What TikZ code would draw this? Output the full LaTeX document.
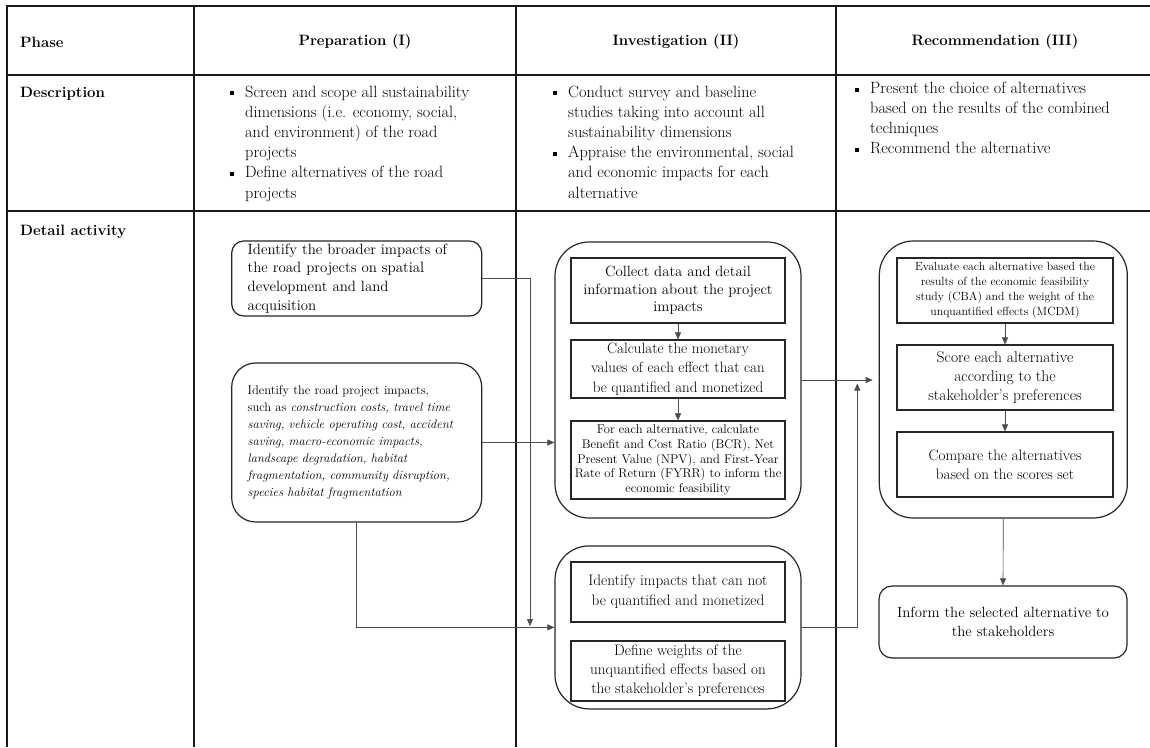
\documentclass[tikz,border=0pt]{standalone}
\usetikzlibrary{arrows.meta}
\newcommand\fsz[2]{\fontsize{#1}{#2}\selectfont}
% small square bullet hung to the left of a line
\newcommand\sqb{\llap{\rule[1.6pt]{4pt}{4pt}\hspace{11.5pt}}}
\begin{document}
\begin{tikzpicture}[x=1pt,y=-1pt,
  rule/.style={line width=1.3pt,draw=black!90},
  head/.style={font=\fsz{15}{18}\bfseries,inner sep=0pt},
  desc/.style={font=\fsz{16.3}{20.2},align=left,anchor=north west,inner sep=0pt},
  pbox/.style={draw=black!85,line width=1.2pt,rounded corners=#1,align=left,
    text width=218pt,inner xsep=16pt,inner ysep=0pt,minimum width=250pt},
  pbox/.default=12pt,
  grp/.style={draw=black!85,line width=1.2pt,rounded corners=34pt,inner sep=0pt},
  ibox/.style={draw=black!85,line width=1.2pt,align=center,inner sep=0pt,minimum width=214pt},
  arr/.style={line width=0.65pt,draw=black!70,-{Triangle[length=7pt,width=6pt]}}]
\useasboundingbox (0,0) rectangle (1150,747);
\fill[white] (0,0) rectangle (1150,747);

% table rules
\draw[rule] (7,747) -- (7,6) -- (1150,6);
\draw[rule] (7,75) -- (1150,75);
\draw[rule] (7,211) -- (1150,211);
\draw[rule] (194,6) -- (194,747);
\draw[rule] (516,6) -- (516,747);
\draw[rule] (836,6) -- (836,747);

% header row
\node[head,anchor=west] (hPh) at (20,42) {Phase};
\node[head] (hP) at (355,42) {Preparation (I)};
\node[head] (hI) at (676,42) {Investigation (II)};
\node[head] (hR) at (995,42) {Recommendation (III)};

% description row
\node[head,anchor=west] (hD) at (20,94) {Description};
\node[desc] (dP) at (245,85.5) {\sqb Screen and scope all sustainability\\dimensions (i.e. economy, social,\\and environment) of the road\\projects\\\sqb Define alternatives of the road\\projects};
\node[desc] (dI) at (568,85.5) {\sqb Conduct survey and baseline\\studies taking into account all\\sustainability dimensions\\\sqb Appraise the environmental, social\\and economic impacts for each\\alternative};
\node[desc] (dR) at (870,81.5) {\sqb Present the choice of alternatives\\based on the results of the combined\\techniques\\\sqb Recommend the alternative};

% detail activity row
\node[head,anchor=west] (hA) at (20,232) {Detail activity};

% preparation
\node[pbox=12pt,minimum height=75pt,font=\fsz{14.9}{18.8}] (A) at (356.7,278.5)
  {Identify the broader impacts of\\the road projects on spatial\\development and land\\acquisition};
\node[pbox=24pt,minimum height=159pt,font=\fsz{12.5}{17.1}] (B) at (356.7,442.5)
  {Identify the road project impacts,\\such as \textit{construction costs, travel time}\\\textit{saving, vehicle operating cost, accident}\\\textit{saving, macro-economic impacts,}\\\textit{landscape degradation, habitat}\\\textit{fragmentation, community disruption,}\\\textit{species habitat fragmentation}};

% investigation
\node[grp,minimum width=246pt,minimum height=276pt] (G1) at (678,380) {};
\node[ibox,minimum height=65pt,font=\fsz{14.8}{17.5}] (r1) at (678,290.5)
  {Collect data and detail\\information about the project\\impacts};
\node[ibox,minimum height=58pt,font=\fsz{15}{19.5}] (r2) at (678,369)
  {Calculate the monetary\\values of each effect that can\\be quantified and monetized};
\node[ibox,minimum height=78pt,font=\fsz{12.6}{14.6}] (r3) at (678,460)
  {For each alternative, calculate\\Benefit and Cost Ratio (BCR), Net\\Present Value (NPV), and First-Year\\Rate of Return (FYRR) to inform the\\economic feasibility};
\node[grp,minimum width=246pt,minimum height=163pt] (G2) at (678,627.4) {};
\node[ibox,minimum height=60pt,font=\fsz{15.2}{20}] (r4) at (678,592)
  {Identify impacts that can not\\be quantified and monetized};
\node[ibox,minimum height=60pt,font=\fsz{15.2}{19}] (r5) at (678,671)
  {Define weights of the\\unquantified effects based on\\the stakeholder’s preferences};

% recommendation
\node[grp,minimum width=248pt,minimum height=277pt] (G3) at (1003.3,379.5) {};
\node[ibox,minimum width=216pt,minimum height=65pt,font=\fsz{11.8}{15.2}] (r6) at (1005,290.5)
  {Evaluate each alternative based the\\results of the economic feasibility\\study (CBA) and the weight of the\\unquantified effects (MCDM)};
\node[ibox,minimum width=216pt,minimum height=65pt,font=\fsz{15.6}{18.8}] (r7) at (1005,377.5)
  {Score each alternative\\according to the\\stakeholder’s preferences};
\node[ibox,minimum width=216pt,minimum height=65pt,font=\fsz{15.1}{18.7}] (r8) at (1005,464.5)
  {Compare the alternatives\\based on the scores set};
\node[draw=black!85,line width=1.2pt,rounded corners=13pt,align=center,inner sep=0pt,
  minimum width=248pt,minimum height=72pt,font=\fsz{14.8}{19.3}] (I) at (1003,622)
  {Inform the selected alternative to\\the stakeholders};

% connectors
\coordinate (jA) at (530,626);
\coordinate (jC) at (857.3,383.5);
\draw[arr] (A.east) -| (jA);
\draw[arr] (B.east) -- (B.east -| G1.west);
\draw[arr] (B.south) |- (G2.west);
\draw[arr] (r1) -- (r2);
\draw[arr] (r2) -- (r3);
\draw[arr,shorten >=6pt] (G1.east) -- (G1.east -| G3.west);
\draw[arr] (G2.east) -| (jC);
\draw[arr] (r6) -- (r7);
\draw[arr] (r7) -- (r8);
\draw[arr] (G3.south) -- (I.north);
\end{tikzpicture}
\end{document}
